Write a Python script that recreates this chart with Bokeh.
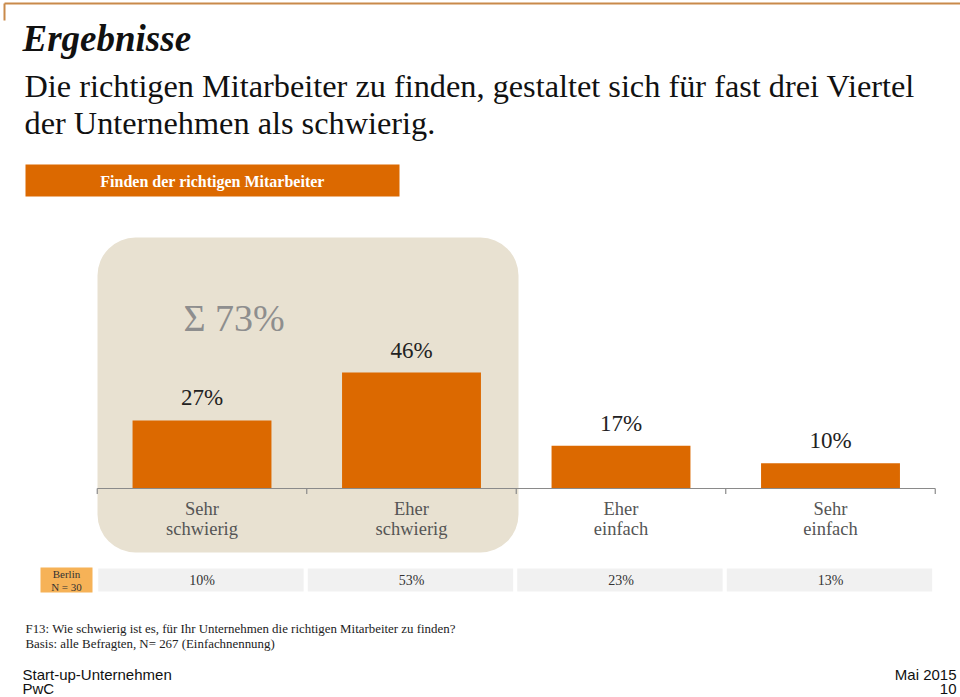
from bokeh.plotting import figure
from bokeh.models import Range1d
from bokeh.core.properties import value
from bokeh.embed import file_html
from bokeh.resources import INLINE

# ---- data ----
categories = ["Sehr\nschwierig", "Eher\nschwierig", "Eher\neinfach", "Sehr\neinfach"]
shares = [27, 46, 17, 10]
share_labels = ["27%", "46%", "17%", "10%"]
berlin = [10, 53, 23, 13]
berlin_labels = ["10%", "53%", "23%", "13%"]
sum_label = "Σ 73%"
title = "Ergebnisse"
subtitle1 = "Die richtigen Mitarbeiter zu finden, gestaltet sich für fast drei Viertel"
subtitle2 = "der Unternehmen als schwierig."
header = "Finden der richtigen Mitarbeiter"
row_label = "Berlin\nN = 30"
note1 = "F13: Wie schwierig ist es, für Ihr Unternehmen die richtigen Mitarbeiter zu finden?"
note2 = "Basis: alle Befragten, N= 267 (Einfachnennung)"

ORANGE = "#dc6900"
SERIF = value("Liberation Serif")
SANS = value("Liberation Sans")

W, H = 960, 697
p = figure(width=W, height=H, output_backend="svg", toolbar_location=None,
           x_range=Range1d(0, W), y_range=Range1d(H, 0),
           min_border=0, outline_line_color=None)
p.axis.visible = False
p.grid.visible = False
p.background_fill_color = "white"

# value scales for bars (baseline at page y 488, ~2.52 px per %)
px_per = 2.52
base = 488
p.extra_y_ranges = {"val": Range1d(-(H - base) / px_per, base / px_per)}
c0, step = 201.5, 209.5
p.extra_x_ranges = {"cat": Range1d(-c0 / step, (W - c0) / step)}

idx = list(range(len(categories)))

# top decoration line
p.segment(x0=[4], y0=[3], x1=[960], y1=[3], line_color="#c98a4b", line_width=2)
p.segment(x0=[4], y0=[3], x1=[4], y1=[20], line_color="#c98a4b", line_width=2)

# title & subtitle
p.text(x=[22], y=[38], text=[title], text_font=SERIF, text_font_style="bold italic",
       text_font_size="37px", text_baseline="middle", text_color="#111111")
p.text(x=[24], y=[85], text=[subtitle1], text_font=SERIF, text_font_size="32.3px",
       text_baseline="middle", text_color="#111111")
p.text(x=[24], y=[122], text=[subtitle2], text_font=SERIF, text_font_size="32.3px",
       text_baseline="middle", text_color="#111111")

# header bar
p.quad(left=[25], right=[399], top=[164], bottom=[196], fill_color=ORANGE, line_color=None)
p.text(x=[212], y=[181], text=[header], text_font=SERIF, text_font_style="bold",
       text_font_size="16px", text_align="center", text_baseline="middle", text_color="white")

# beige rounded box
p.quad(left=[97], right=[518], top=[237], bottom=[552], fill_color="#e8e1d1",
       line_color=None, border_radius=38)
p.text(x=[183], y=[317], text=[sum_label], text_font=SERIF, text_font_size="38px",
       text_baseline="middle", text_color="#8e8e8e")

# bars
p.vbar(x=idx, top=shares, bottom=0, width=0.663, fill_color=ORANGE, line_color=None,
       x_range_name="cat", y_range_name="val")
p.text(x=idx, y=shares, text=share_labels, x_range_name="cat", y_range_name="val",
       y_offset=-10, text_font=SERIF, text_font_size="23px",
       text_align="center", text_baseline="bottom", text_color="#222222")

# axis line with ticks
bounds = [i - 0.5 for i in idx] + [len(idx) - 0.5]
p.segment(x0=[bounds[0]], y0=[0], x1=[bounds[-1]], y1=[0], x_range_name="cat",
          y_range_name="val", line_color="#8a8a8a", line_width=1.2)
p.segment(x0=bounds, y0=[0] * len(bounds), x1=bounds, y1=[-2.2] * len(bounds),
          x_range_name="cat", y_range_name="val", line_color="#8a8a8a", line_width=1.2)

# category labels
p.text(x=idx, y=[518] * len(idx), text=categories, x_range_name="cat",
       text_font=SERIF, text_font_size="18.5px", text_align="center",
       text_baseline="middle", text_color="#555555", text_line_height=1.0)

# Berlin row
p.quad(left=[40], right=[92], top=[567], bottom=[592], fill_color="#f6b257", line_color=None)
p.text(x=[66], y=[580], text=[row_label], text_font=SERIF, text_font_size="11px",
       text_align="center", text_baseline="middle", text_color="#333333", text_line_height=1.15)
p.quad(left=[i - 0.5 for i in idx], right=[i + 0.49 for i in idx], top=[567] * 4, bottom=[592] * 4,
       x_range_name="cat", fill_color="#f1f1f1", line_color="white", line_width=2)
p.text(x=idx, y=[580] * 4, text=berlin_labels, x_range_name="cat", text_font=SERIF,
       text_font_size="14px", text_align="center", text_baseline="middle", text_color="#333333")

# notes
p.text(x=[25], y=[628], text=[note1], text_font=SERIF, text_font_size="12.9px",
       text_baseline="middle", text_color="#222222")
p.text(x=[25], y=[643], text=[note2], text_font=SERIF, text_font_size="12.9px",
       text_baseline="middle", text_color="#222222")

# footer
p.text(x=[22], y=[674], text=["Start-up-Unternehmen"], text_font=SANS, text_font_size="15px",
       text_baseline="middle", text_color="#111111")
p.text(x=[22], y=[688], text=["PwC"], text_font=SANS, text_font_size="15px",
       text_baseline="middle", text_color="#111111")
p.text(x=[956], y=[674], text=["Mai 2015"], text_font=SANS, text_font_size="15px",
       text_align="right", text_baseline="middle", text_color="#111111")
p.text(x=[956], y=[688], text=["10"], text_font=SANS, text_font_size="15px",
       text_align="right", text_baseline="middle", text_color="#111111")

open("out.html", "w").write(file_html(p, INLINE))
